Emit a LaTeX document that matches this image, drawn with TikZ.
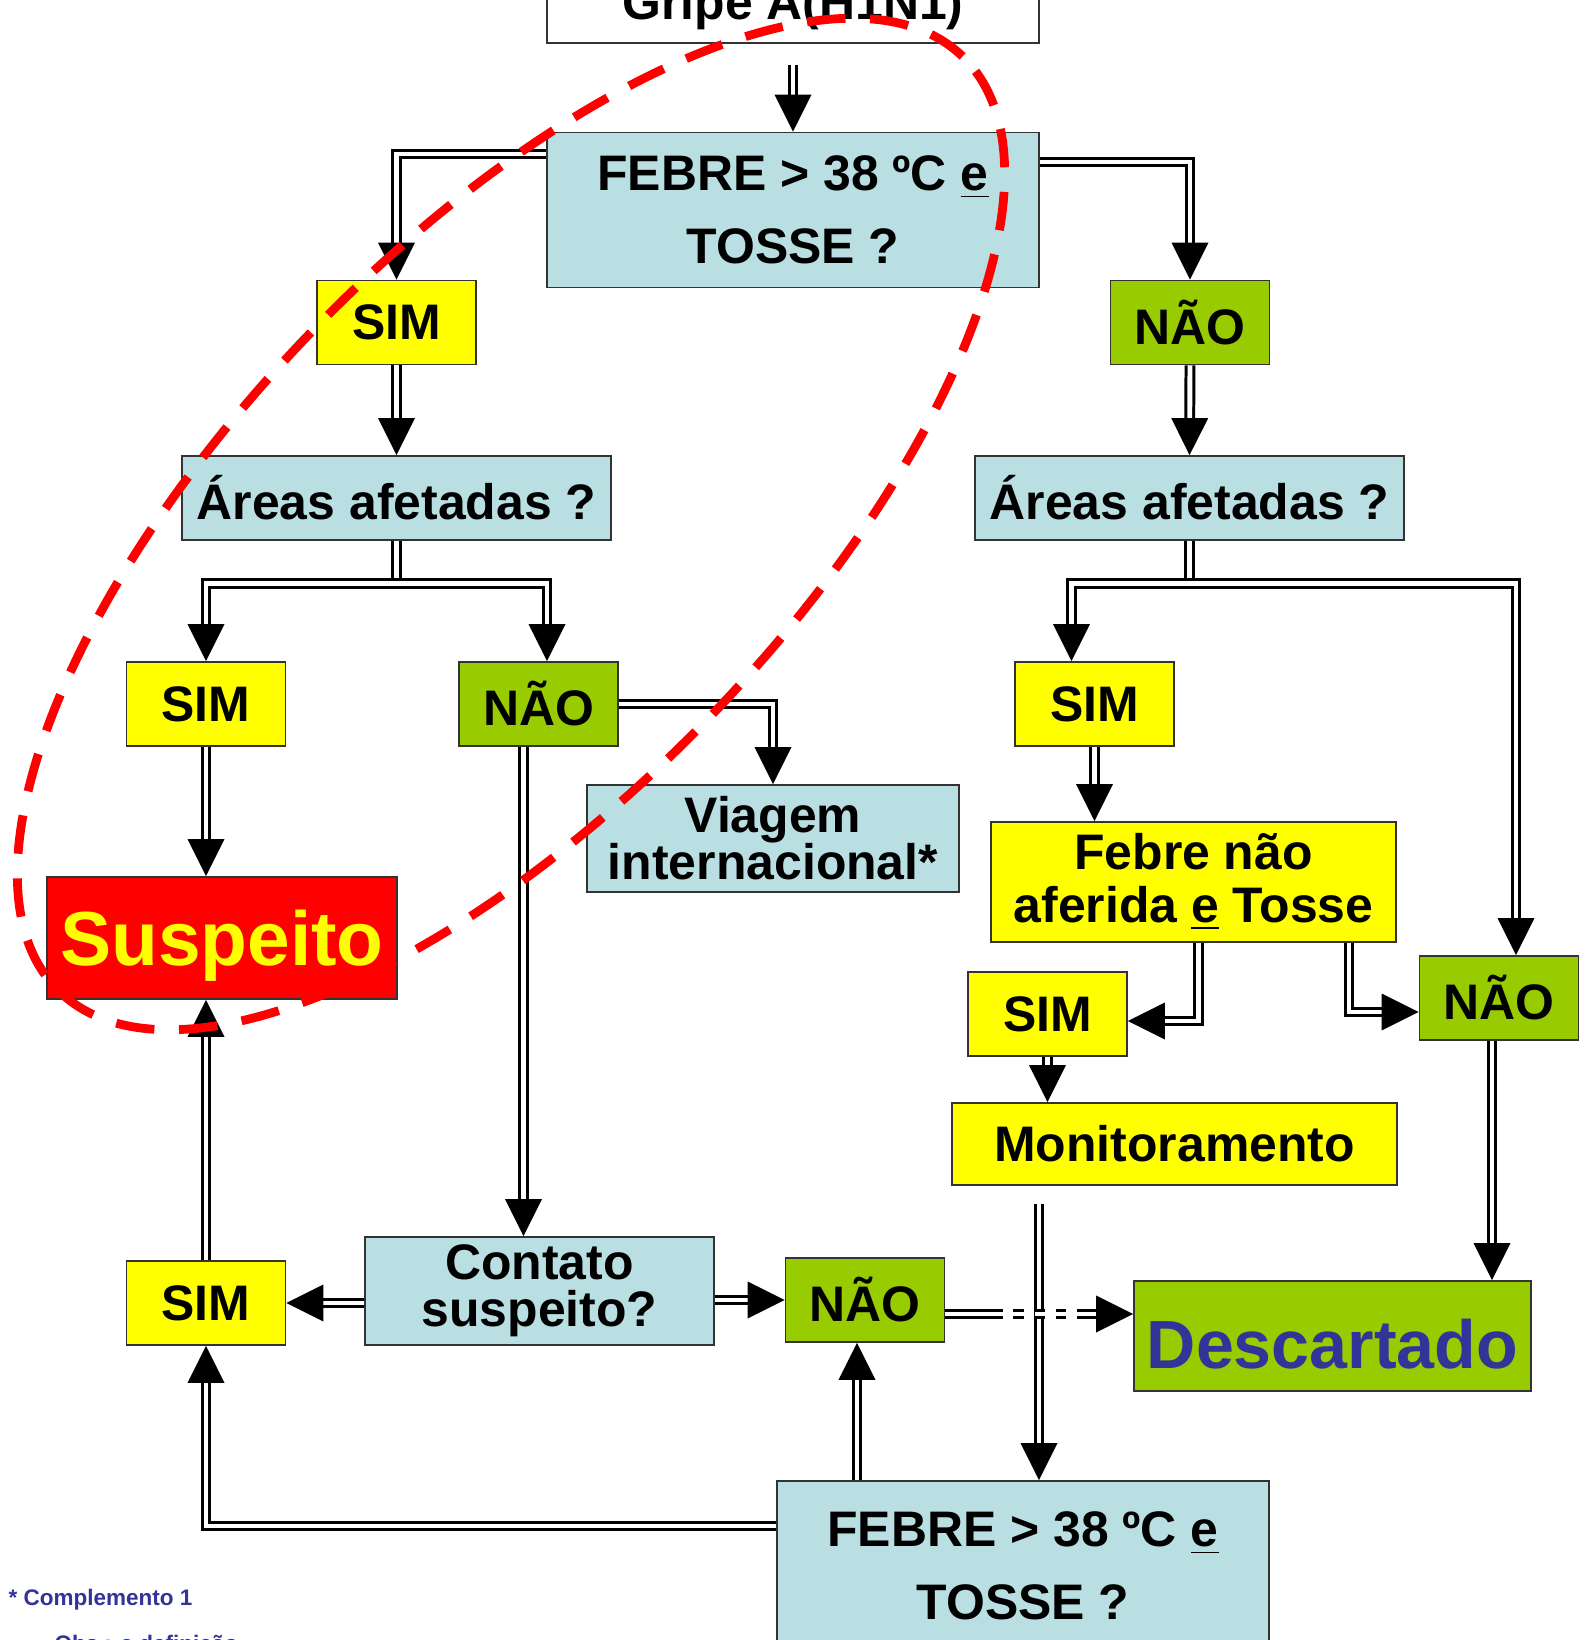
\documentclass[tikz,border=0pt]{standalone}
\usepackage{fontspec}
\setmainfont{Liberation Sans}
\usetikzlibrary{decorations.markings}
\definecolor{azul}{HTML}{B9DFE2}
\definecolor{amarelo}{HTML}{FFFF00}
\definecolor{verde}{HTML}{99CC00}
\definecolor{vermelho}{HTML}{FF0000}
\definecolor{anil}{HTML}{333399}
\begin{document}
\begin{tikzpicture}[
  caixa/.style={draw=black!80,line width=0.5pt,inner sep=0pt,align=center,font=\bfseries\fontsize{14.2}{16}\selectfont},
  sim/.style={caixa,fill=amarelo,minimum width=1.59cm,minimum height=0.84cm},
  nao/.style={caixa,fill=verde,minimum width=1.59cm,minimum height=0.84cm},
  perg/.style={caixa,fill=azul},
  linha/.style={double,double distance=1.4pt,line width=0.85pt},
  seta/.style={linha,shorten >=9pt,postaction={decorate,decoration={markings,
    mark=at position 0.9999 with {\fill[black] (0,0)--(-0.37,0.185)--(-0.37,-0.185)--cycle;}}}}]
\useasboundingbox (0,0) rectangle (15.87,-16.40);
\clip (0,0) rectangle (15.87,-16.40);

\node[caixa,fill=white,minimum width=4.92cm,minimum height=0.72cm] (gripe) at (7.93,-0.07) {Gripe A(H1N1)};
\node[perg,minimum width=4.92cm,minimum height=1.55cm,font=\bfseries\fontsize{14.2}{20.7}\selectfont] (febre1) at (7.93,-2.1) {FEBRE > 38 ºC \underline{e}\\TOSSE ?};
\node[sim] (sim1) at (3.965,-3.225) {SIM};
\node[nao] (nao1) at (11.90,-3.225) {NÃO};
\node[perg,minimum width=4.29cm,minimum height=0.84cm] (areas1) at (3.965,-4.98) {Áreas afetadas ?};
\node[perg,minimum width=4.29cm,minimum height=0.84cm] (areas2) at (11.895,-4.98) {Áreas afetadas ?};
\node[sim] (sim2) at (2.06,-7.04) {SIM};
\node[nao] (nao2) at (5.385,-7.04) {NÃO};
\node[sim] (sim3) at (10.945,-7.04) {SIM};
\node[perg,minimum width=3.72cm,minimum height=1.07cm,font=\bfseries\fontsize{14.2}{13.3}\selectfont] (viagem) at (7.73,-8.385) {Viagem\\internacional*};
\node[caixa,fill=amarelo,minimum width=4.05cm,minimum height=1.2cm,font=\bfseries\fontsize{14.2}{15}\selectfont] (aferida) at (11.935,-8.82) {Febre não\\aferida \underline{e} Tosse};
\node[caixa,fill=vermelho,text=amarelo,text depth=0pt,minimum width=3.5cm,minimum height=1.22cm,font=\bfseries\fontsize{21.8}{24}\selectfont] (suspeito) at (2.22,-9.38) {Suspeito};
\node[nao] (nao3) at (14.99,-9.98) {NÃO};
\node[sim] (sim4) at (10.475,-10.14) {SIM};
\node[caixa,fill=amarelo,minimum width=4.45cm,minimum height=0.82cm] (monit) at (11.745,-11.44) {Monitoramento};
\node[sim] (sim5) at (2.06,-13.03) {SIM};
\node[perg,minimum width=3.49cm,minimum height=1.08cm,font=\bfseries\fontsize{14.2}{13.3}\selectfont] (contato) at (5.395,-12.91) {Contato\\suspeito?};
\node[nao] (nao4) at (8.65,-13.0) {NÃO};
\node[caixa,fill=verde,text=anil,text height=0.65cm,text depth=0pt,minimum width=3.97cm,minimum height=1.1cm,font=\bfseries\fontsize{19.4}{22}\selectfont] (descartado) at (13.325,-13.36) {Descartado};
\node[perg,minimum width=4.92cm,minimum height=1.7cm,font=\bfseries\fontsize{14.2}{20.7}\selectfont] (febre2) at (10.23,-15.66) {FEBRE > 38 ºC \underline{e}\\TOSSE ?};
\node[anchor=base west,inner sep=0pt,text=anil,font=\bfseries\fontsize{6.4}{7}\selectfont] (nota) at (0.08,-16.05) {* Complemento 1};
\node[anchor=base west,inner sep=0pt,text=anil,font=\bfseries\fontsize{6.4}{7}\selectfont] (obs) at (0.54,-16.51) {Obs.: a definição};

\draw[seta] ([yshift=-0.21cm]gripe.south) -- (febre1.north);
\draw[seta] ([yshift=0.56cm]febre1.west) -| (sim1.north);
\draw[seta] ([yshift=0.48cm]febre1.east) -| (nao1.north);
\draw[seta] (sim1.south) -- (areas1.north);
\draw[seta] (nao1.south) -- (areas2.north);
\draw[linha] (areas1.south) -- ++(0,-0.43) coordinate (ramo1);
\draw[seta] (ramo1) -| (sim2.north);
\draw[seta] (ramo1) -| ([xshift=0.085cm]nao2.north);
\draw[linha] (areas2.south) -- ++(0,-0.43) coordinate (ramo2);
\draw[seta] (ramo2) -| ([xshift=-0.23cm]sim3.north);
\draw[seta] (ramo2) -| ([xshift=0.17cm]nao3.north);
\draw[seta] (nao2.east) -| (viagem.north);
\draw[seta] ([xshift=-0.15cm]nao2.south) coordinate (n2) -- (n2 |- contato.north);
\draw[seta] (sim2.south) -- (sim2.south |- suspeito.north);
\draw[seta] (sim3.south) -- (sim3.south |- aferida.north);
\draw[seta] ([xshift=0.05cm]aferida.south) |- ([yshift=-0.07cm]sim4.east);
\draw[seta] ([xshift=1.555cm]aferida.south) |- ([yshift=-0.14cm]nao3.west);
\draw[seta] (sim4.south) -- (sim4.south |- monit.north);
\draw[seta] ([xshift=-0.07cm]nao3.south) coordinate (n3) -- (n3 |- descartado.north);
\draw[seta] ([xshift=-1.355cm,yshift=-0.18cm]monit.south) coordinate (m1) -- (m1 |- febre2.north);
\draw[seta] (sim5.east -| contato.west) -- (sim5.east);
\draw[seta] (contato.east |- nao4.west) -- (nao4.west);
\draw[linha] ([yshift=-0.14cm]nao4.east) -- ++(0.47,0) coordinate (d1);
\draw[linha,dashed] (d1) -- ++(0.85,0) coordinate (d2);
\draw[seta] (d2) -- (d2 -| descartado.west);
\draw[seta] (sim5.north) -- (sim5.north |- suspeito.south);
\draw[seta] ([yshift=0.4cm]febre2.west) -| (sim5.south);
\path ([xshift=-0.08cm]nao4.south) coordinate (n4);
\draw[seta] (n4 |- febre2.north) -- (n4);

\draw[vermelho,line width=2.5pt,dash pattern=on 11pt off 7pt,rotate around={46:(5.11,-5.24)}] (5.11,-5.24) ellipse (6.5 and 2.77);
\end{tikzpicture}
\end{document}
